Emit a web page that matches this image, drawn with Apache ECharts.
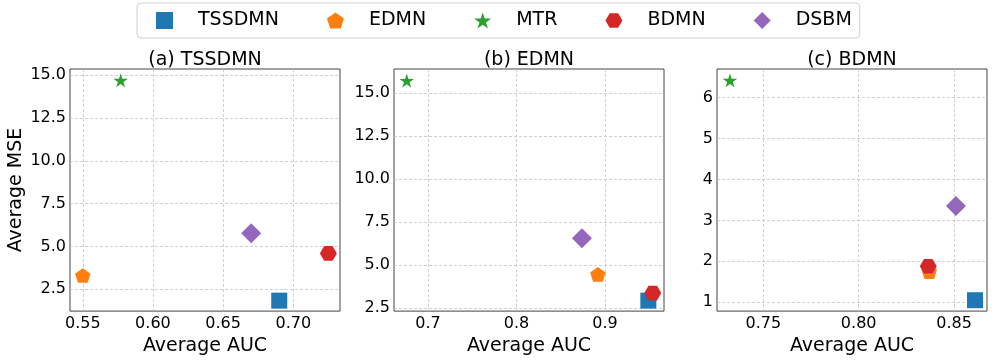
<!DOCTYPE html>
<html>
<head>
<meta charset="utf-8">
<script src="https://cdn.jsdelivr.net/npm/echarts@6/dist/echarts.min.js"></script>
<style>
  html, body { margin: 0; padding: 0; background: #fff; }
  #chart { width: 997px; height: 361px; }
</style>
</head>
<body>
<div id="chart"></div>
<script>
// methods (legend order) and panel titles
const methods = ['TSSDMN', 'EDMN', 'MTR', 'BDMN', 'DSBM']
const panelTitles = ['(a) TSSDMN', '(b) EDMN', '(c) BDMN']

// average AUC per panel, in method order
const aucA = [0.690, 0.550, 0.577, 0.725, 0.670]
const aucB = [0.949, 0.892, 0.676, 0.954, 0.874]
const aucC = [0.861, 0.837, 0.7325, 0.8365, 0.851]
// average MSE per panel, in method order
const mseA = [1.83, 3.30, 14.69, 4.59, 5.77]
const mseB = [2.92, 4.45, 15.72, 3.36, 6.55]
const mseC = [1.05, 1.75, 6.42, 1.88, 3.35]

// axis limits and ticks
const xLimits = [[0.5409, 0.7333], [0.6616, 0.9667], [0.7257, 0.8673]]
const yLimits = [[1.22, 15.36], [2.31, 16.39], [0.784, 6.70]]
const xTicks = [[0.55, 0.60, 0.65, 0.70], [0.7, 0.8, 0.9], [0.75, 0.80, 0.85]]
const yTicks = [[2.5, 5, 7.5, 10, 12.5, 15], [2.5, 5, 7.5, 10, 12.5, 15], [1, 2, 3, 4, 5, 6]]
const xDigits = [2, 1, 2]
const yDigits = [1, 1, 0]

const aucs = [aucA, aucB, aucC]
const mses = [mseA, mseB, mseC]

const FONT = 'DejaVu Sans'
const colors = ['#1f77b4', '#ff7f0e', '#2ca02c', '#d62728', '#9467bd']
const symbols = [
  'rect',
  'path://M0,-1L0.951,-0.309L0.588,0.809L-0.588,0.809L-0.951,-0.309Z',
  'path://M0,-1L0.2245,-0.309L0.951,-0.309L0.3633,0.118L0.5878,0.809L0,0.382L-0.5878,0.809L-0.3633,0.118L-0.951,-0.309L-0.2245,-0.309Z',
  'path://M1,0L0.5,0.866L-0.5,0.866L-1,0L-0.5,-0.866L0.5,-0.866Z',
  'diamond'
]
const symbolSizes = [[16, 16], [15.5, 14.7], [14.5, 13.8], [17, 14.7], [20, 20]]

const gridLefts = [70, 394, 717]

const chart = echarts.init(document.getElementById('chart'))

const grids = gridLefts.map(l => ({
  left: l, top: 69, width: 270, height: 246,
  show: true, borderColor: '#444', borderWidth: 1, backgroundColor: 'transparent'
}))

const xAxes = [0, 1, 2].map(i => ({
  type: 'value', gridIndex: i,
  min: xLimits[i][0], max: xLimits[i][1],
  name: 'Average AUC', nameLocation: 'middle', nameGap: 21,
  nameTextStyle: { fontFamily: FONT, fontSize: 19, color: '#000', lineHeight: 19 },
  axisLine: { show: false },
  axisTick: { show: false, customValues: xTicks[i] },
  axisLabel: {
    customValues: xTicks[i], margin: 5,
    fontFamily: FONT, fontSize: 16, color: '#000', lineHeight: 16,
    formatter: v => v.toFixed(xDigits[i])
  },
  splitLine: { show: true, lineStyle: { color: '#c4c4c4', type: [3, 2], width: 0.8 } }
}))

const yAxes = [0, 1, 2].map(i => ({
  type: 'value', gridIndex: i,
  min: yLimits[i][0], max: yLimits[i][1],
  name: i === 0 ? 'Average MSE' : '', nameLocation: 'middle', nameGap: 44,
  nameTextStyle: { fontFamily: FONT, fontSize: 19, color: '#000', lineHeight: 19 },
  axisLine: { show: false },
  axisTick: { show: false, customValues: yTicks[i] },
  axisLabel: {
    customValues: yTicks[i], margin: 4,
    fontFamily: FONT, fontSize: 16, color: '#000',
    formatter: v => v.toFixed(yDigits[i])
  },
  splitLine: { show: true, lineStyle: { color: '#c4c4c4', type: [3, 2], width: 0.8 } }
}))

const series = []
for (let p = 0; p < 3; p++) {
  methods.forEach((m, k) => {
    series.push({
      name: m, type: 'scatter',
      xAxisIndex: p, yAxisIndex: p,
      symbol: symbols[k], symbolSize: symbolSizes[k],
      itemStyle: { color: colors[k], opacity: 1 },
      data: [[aucs[p][k], mses[p][k]]],
      z: 3 + k
    })
  })
}

const titles = panelTitles.map((t, i) => ({
  text: t, left: gridLefts[i] + 135, top: 50, textAlign: 'center', padding: 0,
  textStyle: { fontFamily: FONT, fontSize: 19, fontWeight: 'normal', color: '#000', lineHeight: 20 }
}))

chart.setOption({
  animation: false,
  title: titles,
  legend: {
    left: 137, top: 3,
    padding: [8, 8, 8, 19],
    itemWidth: 17, itemHeight: 17, itemGap: 48,
    borderColor: '#d0d0d0', borderWidth: 1, borderRadius: 4,
    backgroundColor: '#fff',
    textStyle: { fontFamily: FONT, fontSize: 19, color: '#000', lineHeight: 19, padding: [0, 0, 0, 20] },
    data: methods.map((m, k) => ({ name: m, icon: symbols[k] }))
  },
  grid: grids,
  xAxis: xAxes,
  yAxis: yAxes,
  series: series
})
</script>
</body>
</html>
